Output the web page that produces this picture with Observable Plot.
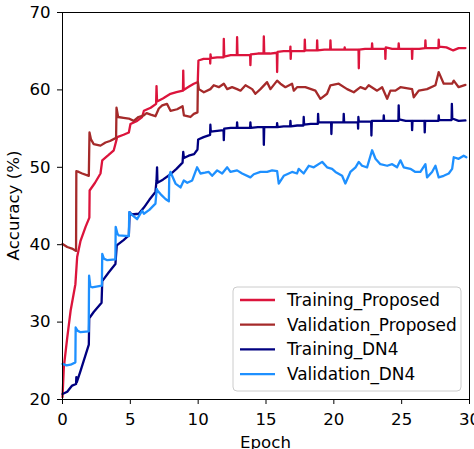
<!DOCTYPE html>
<html>
<head>
<meta charset="utf-8">
<script src="https://cdn.jsdelivr.net/npm/d3@7"></script>
<script src="https://cdn.jsdelivr.net/npm/@observablehq/plot@0.6"></script>
<style>
  html, body { margin: 0; padding: 0; background: white; }
  #chart svg { display: block; }
</style>
</head>
<body>
<div id="chart"></div>
<script>
const seriesNames = ["Training_Proposed", "Validation_Proposed", "Training_DN4", "Validation_DN4"];
const seriesColors = ["#DC143C", "#A52A2A", "#000080", "#1E90FF"];
const xTicks = [0, 5, 10, 15, 20, 25, 30];
const yTicks = [20, 30, 40, 50, 60, 70];
const xLabel = "Epoch";
const yLabel = "Accuracy (%)";

const trainPropEpoch = [0,0.1,0.35,0.6,0.95,1.08,1.33,1.7,1.98,2.0,2.4,2.8,2.93,3.4,3.78,3.9,4.03,4.5,4.89,5.01,5.5,5.87,6.0,6.5,6.9,6.93,6.97,7.4,7.96,8.4,8.88,8.9,8.93,9.3,9.68,9.97,10.02,10.4,10.88,10.89,10.91,10.94,11.4,11.87,11.89,11.92,12.4,12.85,12.87,12.9,13.4,13.83,13.85,13.88,14.4,14.82,14.84,14.87,15.3,15.8,15.82,15.85,16.3,16.78,16.8,16.82,16.85,17.3,17.84,17.86,17.89,18.3,18.75,18.77,18.8,19.3,19.73,19.75,19.78,20.3,20.78,20.8,20.83,21.3,21.82,21.84,21.87,22.3,22.8,22.82,22.85,23.3,23.78,23.8,23.83,24.3,24.76,24.78,24.81,25.3,25.75,25.77,25.8,26.3,26.73,26.75,26.78,27.3,27.71,27.73,27.76,28.3,28.8,29.2,29.7];
const trainPropAcc = [20.3,24.2,28,31.5,34.9,38.4,40.5,42.3,43.5,47,48,49.2,50.9,51.6,52.2,53,53.9,54.2,54.5,55.6,56.0,56.5,57.3,57.7,58.2,60.5,58.5,58.9,59.5,59.7,59.9,62.5,60.0,60.4,60.8,61.0,63.8,64.0,64.0,63.4,64.6,64.1,64.2,64.2,66.6,64.3,64.5,64.5,66.8,64.5,64.5,64.5,63.2,64.6,64.7,64.7,66.9,64.7,64.7,64.8,62.3,64.9,65.0,65.0,65.6,64.0,65.0,65.0,65.0,66.5,65.1,65.1,65.1,66.4,65.1,65.2,65.2,66.4,65.2,65.2,65.2,65.5,65.2,65.2,65.2,62.8,65.2,65.3,65.3,66.0,65.3,65.3,65.3,64.0,65.5,65.3,65.3,66.0,65.3,65.3,65.3,64.0,65.3,65.3,65.4,66.4,65.4,65.4,65.4,66.5,65.6,65.5,65.1,65.4,65.4];

const valPropEpoch = [0,0.35,0.7,1.0,1.02,1.2,1.45,1.94,1.99,2.1,2.3,2.8,3.17,3.5,3.95,3.98,4.1,4.5,4.89,5.25,5.6,5.99,6.2,6.5,6.85,7.1,7.35,7.7,7.96,8.45,8.85,8.95,9.43,9.68,9.95,9.98,10.05,10.42,10.9,11.15,11.52,11.89,12.14,12.5,12.87,13.12,13.49,13.98,14.22,14.59,15.08,15.33,15.82,16.06,16.43,16.92,17.05,17.29,17.9,18.64,19.01,19.5,19.75,20.36,20.98,21.47,21.96,22.33,22.57,23.19,23.56,23.93,24.17,24.54,24.91,25.77,25.89,26.26,26.87,27.49,27.73,28.1,28.72,28.84,29.2,29.7];
const valPropAcc = [40.1,39.7,39.5,39.2,49.5,49.4,49.2,48.9,54.5,53.6,53.0,52.8,53.2,53.4,53.8,57.7,56.5,56.4,56.3,56.0,56.5,56.7,57.0,56.8,56.6,57.6,58.0,58.2,57.3,57.5,57.9,56.7,56.5,56.9,57.1,61.0,60.1,59.7,60.1,60.6,60.35,60.8,60.1,60.35,60.1,59.9,60.6,60.1,59.5,60.1,61.0,60.1,61.2,60.8,60.35,60.8,59.9,60.35,60.35,59.9,58.85,59.5,60.6,60.8,60.1,59.7,60.35,60.1,60.6,59.9,60.35,58.85,59.9,59.9,60.35,60.1,59.05,59.9,60.1,60.6,62.3,60.8,60.8,61.2,60.35,60.65];

const trainDN4Epoch = [0,0.35,0.71,1.0,1.02,1.05,1.33,1.94,1.97,2.3,2.88,2.93,3.4,3.9,4.0,4.5,4.89,4.95,5.1,5.62,6.0,6.4,6.85,6.93,6.97,7.0,7.4,7.96,8.4,8.85,8.9,8.95,9.3,9.7,9.95,10.0,10.4,10.88,10.9,10.93,11.4,11.87,11.89,11.92,12.4,12.85,12.87,12.9,13.4,13.83,13.85,13.88,14.4,14.82,14.84,14.87,15.3,15.8,15.82,15.85,16.3,16.78,16.8,16.83,17.3,17.76,17.78,17.81,18.3,18.82,18.84,18.87,19.3,19.8,19.82,19.85,20.3,20.71,20.73,20.76,21.3,21.77,21.79,21.81,21.84,22.3,22.75,22.77,22.8,23.2,23.66,23.68,23.71,24.2,24.76,24.78,24.81,25.3,25.75,25.77,25.8,26.2,26.68,26.7,26.73,27.2,27.71,27.73,27.76,28.2,28.68,28.7,28.73,29.2,29.7];
const trainDN4Acc = [20.7,21.0,21.8,22.0,22.9,22.2,23.7,27.1,30.5,31.3,32.5,35.3,36.4,37.5,39.9,40.6,41.2,44.2,43.9,44.0,44.8,45.8,46.8,48.3,50.0,48.0,48.4,49.1,49.8,50.6,52.0,51.2,51.5,51.7,52.3,53.6,53.9,54.2,55.5,54.6,54.7,54.8,53.5,55.0,55.1,55.1,55.8,55.1,55.1,55.1,55.8,55.1,55.2,55.2,52.9,55.2,55.2,55.2,55.7,55.2,55.3,55.3,56.0,55.3,55.4,55.4,56.5,55.5,55.6,55.6,56.9,55.8,55.8,55.8,54.3,55.8,55.8,55.8,56.9,55.8,55.8,55.8,55.0,56.5,55.9,55.9,55.9,54.1,56.0,56.0,56.0,56.7,56.0,56.0,56.0,58.0,56.2,56.0,56.0,54.8,56.0,56.0,56.0,54.5,56.0,56.0,56.0,56.7,56.1,56.1,56.1,58.2,56.3,56.0,56.05];

const valDN4Epoch = [0,0.3,0.6,0.95,0.97,1.1,1.33,1.93,1.96,2.05,2.18,2.9,2.93,3.05,3.3,3.9,3.92,4.05,4.15,4.89,4.92,5.1,5.5,5.87,6.0,6.4,6.85,6.95,7.0,7.3,7.59,7.84,7.87,7.96,8.33,8.7,8.94,9.2,9.56,9.92,10.17,10.5,10.78,11.03,11.4,11.77,12.14,12.38,12.87,13.24,13.85,14.1,14.59,15.08,15.45,15.82,15.94,16.31,16.92,17.29,17.41,17.78,18.15,18.52,19.14,19.5,19.87,20.12,20.61,20.85,21.22,21.6,21.84,22.08,22.45,22.82,23.07,23.43,23.93,24.3,24.66,24.91,25.15,25.64,26.01,26.38,26.75,26.87,27.24,27.49,27.73,28.1,28.47,28.72,28.84,29.2,29.57,29.77];
const valDN4Acc = [24.6,24.4,24.5,24.8,29.3,28.9,28.7,28.8,36.0,34.6,34.5,34.7,38.8,38.2,38.0,38.1,42.3,41.4,41.2,41.1,44.2,43.9,43.3,44.4,44.0,44.5,45.3,47.2,47.0,46.4,45.9,45.6,48.9,49.4,47.9,47.4,48.3,48.0,48.3,50.0,49.2,49.3,49.4,48.9,49.6,49.2,50.0,49.4,49.6,49.2,48.7,49.1,49.4,49.4,49.6,49.5,47.9,48.9,49.4,49.2,49.8,49.2,50.2,50.0,50.7,50.0,49.8,49.4,48.9,47.9,49.4,50.0,50.7,50.2,50.0,52.2,51.1,50.4,50.2,50.4,50.0,50.9,50.0,49.8,49.4,49.4,50.4,48.7,49.4,50.2,48.7,48.9,49.2,49.8,51.3,51.1,51.5,51.3];

const epochArrays = [trainPropEpoch, valPropEpoch, trainDN4Epoch, valDN4Epoch];
const accArrays = [trainPropAcc, valPropAcc, trainDN4Acc, valDN4Acc];

const rows = [];
seriesNames.forEach((name, i) => {
  epochArrays[i].forEach((e, j) => rows.push({series: name, epoch: e, acc: accArrays[i][j]}));
});

const W = 474, H = 449;
const mL = 62, mR = 5, mT = 12, mB = 50;
const fs = "16.6px";

const chart = Plot.plot({
  width: W, height: H,
  marginLeft: mL, marginRight: mR, marginTop: mT, marginBottom: mB,
  style: {fontFamily: "DejaVu Sans", fontSize: fs, background: "white", color: "black"},
  x: {domain: [0, 30], ticks: xTicks, tickSize: 5, tickPadding: 9, label: null, tickFormat: d => String(d)},
  y: {domain: [20, 70], ticks: yTicks, tickSize: 5, tickPadding: 7, label: null, tickFormat: d => String(d)},
  color: {domain: seriesNames, range: seriesColors},
  marks: [
    ...seriesNames.map(name => Plot.line(rows.filter(r => r.series === name), {x: "epoch", y: "acc", stroke: "series", strokeWidth: 2.3, strokeLinejoin: "round"})),
    Plot.frame({stroke: "black", strokeWidth: 1})
  ]
});

document.getElementById("chart").appendChild(chart);
const svg = d3.select(chart);
svg.selectAll("text").style("font-size", fs).style("font-family", "DejaVu Sans");

// axis titles
svg.append("text")
  .attr("x", mL + (W - mL - mR) / 2).attr("y", H - 1)
  .attr("text-anchor", "middle")
  .style("font-family", "DejaVu Sans").style("font-size", fs).attr("fill", "black")
  .text(xLabel);
svg.append("text")
  .attr("transform", `translate(19, ${mT + (H - mT - mB) / 2}) rotate(-90)`)
  .attr("text-anchor", "middle")
  .style("font-family", "DejaVu Sans").style("font-size", fs).attr("fill", "black")
  .text(yLabel);

// legend
const lg = svg.append("g").attr("transform", "translate(233, 287)");
lg.append("rect").attr("width", 228).attr("height", 104).attr("rx", 4)
  .attr("fill", "white").attr("fill-opacity", 0.8).attr("stroke", "#cccccc").attr("stroke-width", 1);
seriesNames.forEach((name, i) => {
  const y = 13 + i * 24.7;
  lg.append("line").attr("x1", 7).attr("x2", 42).attr("y1", y).attr("y2", y)
    .attr("stroke", seriesColors[i]).attr("stroke-width", 2.3);
  lg.append("text").attr("x", 54).attr("y", y).attr("dy", "0.36em")
    .attr("text-anchor", "start").style("text-anchor", "start")
    .style("font-family", "DejaVu Sans").style("font-size", "16.9px").attr("fill", "black")
    .text(name);
});
</script>
</body>
</html>
